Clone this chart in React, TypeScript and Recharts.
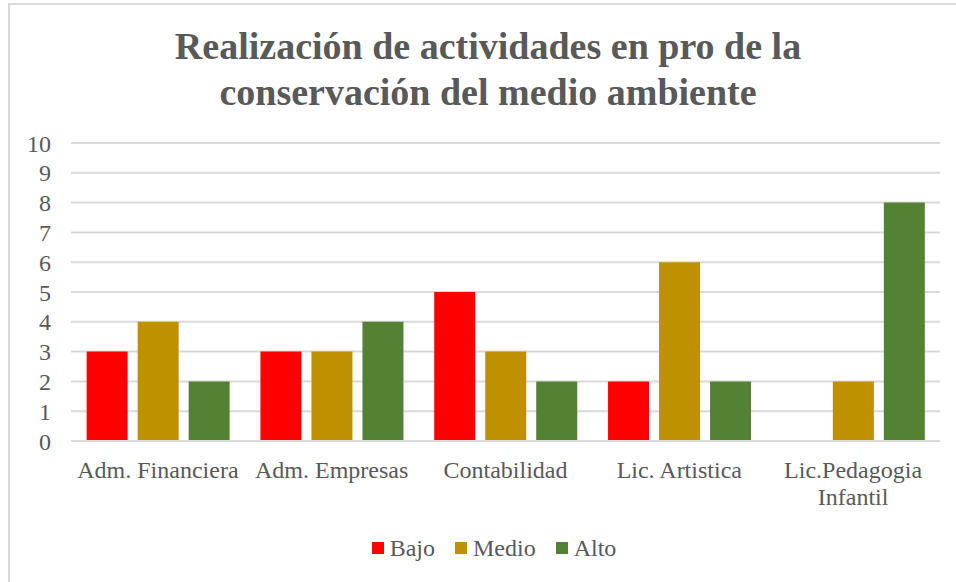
import React from "react";
import { BarChart, Bar, XAxis, YAxis, CartesianGrid, Legend } from "recharts";

const categories = ["Adm. Financiera", "Adm. Empresas", "Contabilidad", "Lic. Artistica", "Lic.Pedagogia Infantil"];
const bajo = [3, 3, 5, 2, 0];
const medio = [4, 3, 3, 6, 2];
const alto = [2, 4, 2, 2, 8];
const yTicks = [0, 1, 2, 3, 4, 5, 6, 7, 8, 9, 10];
const seriesNames = ["Bajo", "Medio", "Alto"];
const seriesColors = ["#FF0000", "#BF9000", "#548235"];
const titleLines = ["Realización de actividades en pro de la", "conservación del medio ambiente"];

const data = categories.map((c, i) => ({ name: c, Bajo: bajo[i], Medio: medio[i], Alto: alto[i] }));

const FONT = '"Liberation Serif"';
const TEXT = "#595959";

const XTick = (props: any) => {
  const { x, y, payload } = props;
  const label: string = payload.value;
  let lines = [label];
  if (label.length > 18) {
    const idx = label.lastIndexOf(" ");
    lines = [label.slice(0, idx), label.slice(idx + 1)];
  }
  return (
    <g>
      {lines.map((l, i) => (
        <text key={i} x={x} y={y + 29 + i * 27} textAnchor="middle" fill={TEXT} style={{ fontFamily: FONT, fontSize: 24 }}>
          {l}
        </text>
      ))}
    </g>
  );
};

const LegendContent = () => (
  <div style={{ display: "flex", justifyContent: "center", alignItems: "center", fontFamily: FONT, fontSize: 24, lineHeight: "28px", color: TEXT, paddingLeft: 38 }}>
    {seriesNames.map((n, i) => (
      <div key={n} style={{ display: "flex", alignItems: "center", marginRight: i < 2 ? 20 : 0 }}>
        <div style={{ width: 12, height: 12, background: seriesColors[i], marginRight: 6 }} />
        <span>{n}</span>
      </div>
    ))}
  </div>
);

export default function App() {
  return (
    <div style={{ position: "absolute", left: 0, top: 0, width: 956, height: 582, background: "#fff", overflow: "hidden", fontFamily: FONT }}>
      <div style={{ position: "absolute", left: 8, top: 3, width: 960, height: 600, border: "2px solid #D9D9D9", boxSizing: "border-box" }} />
      <div style={{ position: "absolute", left: 0, top: 23, width: 956, paddingLeft: 20, boxSizing: "border-box", textAlign: "center", fontFamily: FONT, fontWeight: "bold", fontSize: 38, lineHeight: "46px", color: TEXT }}>
        {titleLines.map((t) => (
          <div key={t}>{t}</div>
        ))}
      </div>
      <div style={{ position: "absolute", left: 0, top: 0 }}>
        <BarChart width={956} height={582} data={data} margin={{ top: 143, right: 16, left: 10, bottom: 13 }} barCategoryGap="9%" barGap={10}>
          <CartesianGrid vertical={false} stroke="#D9D9D9" strokeWidth={2} />
          <XAxis dataKey="name" height={100} tick={<XTick />} tickLine={false} axisLine={{ stroke: "#D9D9D9", strokeWidth: 2 }} interval={0} />
          <YAxis width={61} domain={[0, 10]} ticks={yTicks} interval={0} axisLine={false} tickLine={false} tickMargin={14} tick={{ fill: TEXT, fontSize: 24, style: { fontFamily: FONT } }} />
          <Legend verticalAlign="bottom" content={<LegendContent />} wrapperStyle={{ bottom: 20 }} />
          {seriesNames.map((n, i) => (
            <Bar key={n} dataKey={n} fill={seriesColors[i]} isAnimationActive={false} />
          ))}
        </BarChart>
      </div>
    </div>
  );
}
